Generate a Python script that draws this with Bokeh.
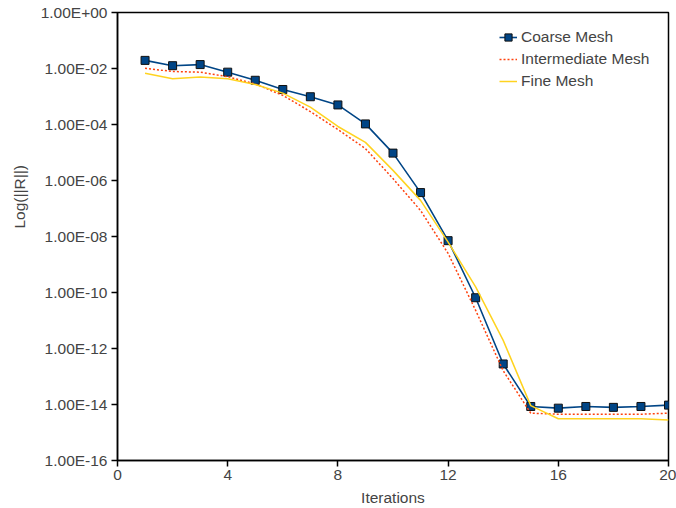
from bokeh.plotting import figure
from bokeh.models import FixedTicker, CustomJSTickFormatter, Range1d, Legend, Title
from bokeh.embed import file_html
from bokeh.resources import INLINE

iterations = list(range(1, 21))
coarse = [1.95e-2, 1.26e-2, 1.38e-2, 7.4e-3, 3.8e-3, 1.78e-3, 9.8e-4, 5.0e-4, 1.05e-4, 9.5e-6,
          3.7e-7, 7.1e-9, 6.5e-11, 2.8e-13, 8.5e-15, 7.4e-15, 8.5e-15, 7.9e-15, 8.5e-15, 9.5e-15]
intermediate = [1.02e-2, 7.8e-3, 7.4e-3, 5.1e-3, 2.8e-3, 1.1e-3, 2.9e-4, 6.6e-5, 1.38e-5, 1.17e-6,
                8.5e-8, 2.5e-9, 2.3e-11, 1.6e-13, 4.9e-15, 4.5e-15, 4.5e-15, 4.5e-15, 4.5e-15, 4.9e-15]
fine = [6.8e-3, 4.3e-3, 5.0e-3, 4.3e-3, 2.7e-3, 1.32e-3, 4.2e-4, 8.5e-5, 2.3e-5, 2.3e-6,
        1.95e-7, 6.3e-9, 1.6e-10, 1.95e-12, 9.1e-15, 3.1e-15, 3.1e-15, 3.1e-15, 3.1e-15, 2.8e-15]
x_ticks = [0, 4, 8, 12, 16, 20]
y_ticks = [1e-16, 1e-14, 1e-12, 1e-10, 1e-8, 1e-6, 1e-4, 1e-2, 1.0]

p = figure(width=676, height=508, y_axis_type="log", output_backend="svg", toolbar_location=None,
           x_range=Range1d(0, 20), y_range=Range1d(1e-16, 1.0),
           min_border_left=117, min_border_right=8, min_border_top=12, min_border_bottom=48)
p.grid.visible = False
p.outline_line_color = "black"
p.outline_line_width = 1.5
p.background_fill_color = "white"

FONT = "Liberation Sans"
for ax in (p.xaxis[0], p.yaxis[0]):
    ax.axis_line_color = "black"
    ax.axis_line_width = 1.5
    ax.major_tick_line_color = "black"
    ax.major_tick_line_width = 1.5
    ax.major_tick_in = 0
    ax.major_tick_out = 6
    ax.minor_tick_line_color = None
    ax.major_label_text_font = FONT
    ax.major_label_text_font_size = "15.5px"
    ax.major_label_text_color = "#444444"
    ax.axis_label_text_font = FONT
    ax.axis_label_text_font_size = "15.5px"
    ax.axis_label_text_font_style = "normal"
    ax.axis_label_text_color = "#444444"

p.xaxis.ticker = FixedTicker(ticks=x_ticks)
p.yaxis.ticker = FixedTicker(ticks=y_ticks)
p.yaxis.formatter = CustomJSTickFormatter(code="""
const e = Math.round(Math.log10(tick));
const s = e < 0 ? '-' : '+';
const a = Math.abs(e);
return '1.00E' + s + (a < 10 ? '0' : '') + a;
""")
p.xaxis.axis_label = "Iterations"
p.xaxis.major_label_standoff = 3
p.yaxis.major_label_standoff = 4
p.xaxis.axis_label_standoff = 6

# y title as a side title so it can sit a little above the frame centre, as in the original
ytitle = Title(text="Log(||R||)", align="left", vertical_align="top", offset=232, standoff=16,
               text_font=FONT, text_font_size="15.5px", text_font_style="normal",
               text_color="#444444")
p.add_layout(ytitle, "left")

BLUE, ORANGE, YELLOW = "#004586", "#ff420e", "#ffd320"
l1 = p.line(iterations, coarse, line_color=BLUE, line_width=1.6)
s1 = p.scatter(iterations, coarse, marker="square", size=8, fill_color=BLUE,
               line_color="#111111", line_width=1)
l2 = p.line(iterations, intermediate, line_color=ORANGE, line_width=1.5, line_dash="2 2")
l3 = p.line(iterations, fine, line_color=YELLOW, line_width=1.5)

legend = Legend(items=[("Coarse Mesh", [l1, s1]), ("Intermediate Mesh", [l2]), ("Fine Mesh", [l3])],
                location=(382, 369))
legend.border_line_color = None
legend.background_fill_alpha = 0
legend.label_text_font = FONT
legend.label_text_font_size = "15.5px"
legend.label_text_color = "#444444"
legend.glyph_width = 18
legend.glyph_height = 20
legend.label_height = 20
legend.label_standoff = 4
legend.spacing = 2
legend.padding = 5
p.add_layout(legend, "center")

open("out.html", "w").write(file_html(p, INLINE))
